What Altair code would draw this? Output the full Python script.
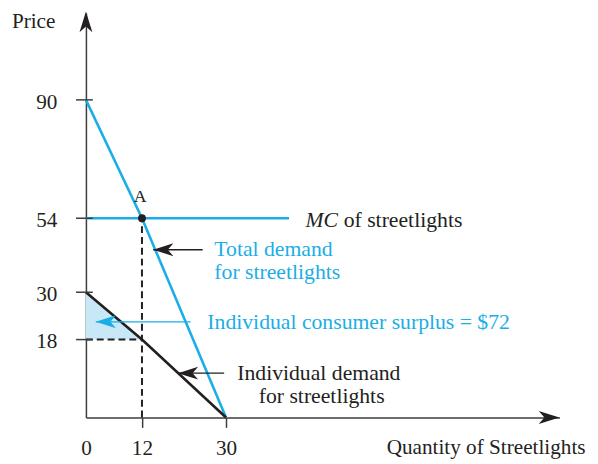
import altair as alt
import pandas as pd

# ---------------- data ----------------
x_tick_values = [0, 12, 30]
y_tick_values = [18, 30, 54, 90]

total_q = [0, 12, 30]
total_p = [90, 54, 0]
indiv_q = [0, 12, 30]
indiv_p = [30, 18, 0]
mc_q = [0, 43.5]
mc_p = [54, 54]
a_q = [12]
a_p = [54]
surplus_q = [0, 12]
surplus_hi = [30, 18]
surplus_lo = [18, 18]

# annotations (positions in data units)
blue_text = ["Total demand", "for streetlights", "Individual consumer surplus = $72"]
blue_text_q = [27.5, 27.5, 26.0]
blue_text_p = [41.8, 34.2, 20.75]
black_text = ["of streetlights", "Individual demand", "for streetlights"]
black_text_q = [55.2, 32.4, 37.0]
black_text_p = [51.1, 8.7, 3.4]
italic_text = ["MC"]
italic_text_q = [47.0]
italic_text_p = [51.1]
a_label = ["A"]
a_label_q = [11.6]
a_label_p = [58.8]

arrow_tip_q = [14.4, 2.1, 19.7]
arrow_tail_q = [25.0, 22.4, 29.6]
arrow_p = [43.8, 22.5, 10.25]
arrow_kind = ["black", "blue", "black"]

x_axis_end = [101.4]
y_axis_end = [116]

# ---------------- style ----------------
BLUE = "#1aaee6"
BLACK = "#231f20"
AXIS = "#3c3c3c"
SHADE = "#c8e8f7"
FONT = "Liberation Serif"
FS = 21.5
FS_NOTE = 22

XS = alt.Scale(domain=[0, 101.4], nice=False, zero=False)
YS = alt.Scale(domain=[0, 18, 30, 54, 90, 116], range=[410, 331, 283, 208, 88, 0],
               nice=False, zero=False)

LEFT_HEAD = "M 0 0 L 2 -0.64 L 1.45 0 L 2 0.64 Z"
RIGHT_HEAD = "M 0 0 L -2 -0.62 L -1.45 0 L -2 0.62 Z"
UP_HEAD = "M 0 0 L -0.62 2 L 0 1.45 L 0.62 2 Z"

X_AXIS = alt.Axis(
    values=x_tick_values, title="Quantity of Streetlights", grid=False,
    domain=True, domainColor=AXIS, domainWidth=1.5,
    ticks=True, tickSize=10, tickColor=AXIS, tickWidth=1.5,
    tickOpacity={"condition": {"test": "datum.value === 0", "value": 0}, "value": 1},
    labelFont=FONT, labelFontSize=FS, labelColor=BLACK, labelPadding=11,
    labelBaseline="top", labelFlush=False, labelOverlap=False,
    titleFont=FONT, titleFontSize=FS, titleFontWeight="normal", titleColor=BLACK,
    titleX=506, titleY=37, titleAlign="right", titleBaseline="alphabetic",
)
Y_AXIS = alt.Axis(
    values=y_tick_values, title="Price", grid=False,
    domain=True, domainColor=AXIS, domainWidth=1.5,
    ticks=False, tickSize=0,
    labelFont=FONT, labelFontSize=FS, labelColor=BLACK, labelPadding=29.5,
    labelBaseline="alphabetic", labelOffset=8.5, labelAlign="right",
    labelFlush=False, labelOverlap=False,
    titleFont=FONT, titleFontSize=FS, titleFontWeight="normal", titleColor=BLACK,
    titleAngle=0, titleX=-53.5, titleY=15, titleAlign="center", titleBaseline="alphabetic",
)


def X(field):
    return alt.X(field, type="quantitative", scale=XS, axis=X_AXIS)


def Y(field):
    return alt.Y(field, type="quantitative", scale=YS, axis=Y_AXIS)


# ---------------- layers ----------------
shade = alt.Chart(pd.DataFrame({"q": surplus_q, "hi": surplus_hi, "lo": surplus_lo})).mark_area(
    color=SHADE, opacity=1
).encode(x=X("q"), y=Y("hi"), y2="lo")

vdash = alt.Chart(pd.DataFrame({"q": a_q, "p": a_p, "z": [0]})).mark_rule(
    color=BLACK, strokeWidth=2, strokeDash=[7, 4]
).encode(x=X("q"), y=Y("z"), y2="p")
hdash = alt.Chart(pd.DataFrame({"q": a_q, "p": indiv_p[1:2], "z": [0]})).mark_rule(
    color=BLACK, strokeWidth=2, strokeDash=[7, 4]
).encode(x=X("z"), x2="q", y=Y("p"))

mc_line = alt.Chart(pd.DataFrame({"q": mc_q, "p": mc_p})).mark_line(
    color=BLUE, strokeWidth=2.6
).encode(x=X("q"), y=Y("p"))
total_line = alt.Chart(pd.DataFrame({"q": total_q, "p": total_p})).mark_line(
    color=BLUE, strokeWidth=2.6
).encode(x=X("q"), y=Y("p"))
indiv_line = alt.Chart(pd.DataFrame({"q": indiv_q, "p": indiv_p})).mark_line(
    color=BLACK, strokeWidth=2.6
).encode(x=X("q"), y=Y("p"))

point_a = alt.Chart(pd.DataFrame({"q": a_q, "p": a_p})).mark_circle(
    color=BLACK, size=64, opacity=1
).encode(x=X("q"), y=Y("p"))

arrow_df = pd.DataFrame({"tip": arrow_tip_q, "tail": arrow_tail_q, "p": arrow_p, "k": arrow_kind})
color_scale = alt.Scale(domain=["black", "blue"], range=[BLACK, BLUE])
shafts = alt.Chart(arrow_df).mark_rule(strokeWidth=1.4).encode(
    x=X("tip"), x2="tail", y=Y("p"), color=alt.Color("k:N", scale=color_scale, legend=None)
)
heads = alt.Chart(arrow_df).mark_point(
    shape=LEFT_HEAD, filled=True, size=420, opacity=1, strokeWidth=0
).encode(x=X("tip"), y=Y("p"), color=alt.Color("k:N", scale=color_scale, legend=None))

blue_txt = alt.Chart(pd.DataFrame({"q": blue_text_q, "p": blue_text_p, "t": blue_text})).mark_text(
    font=FONT, fontSize=FS_NOTE, color=BLUE, align="left", baseline="alphabetic"
).encode(x=X("q"), y=Y("p"), text="t:N")
black_txt = alt.Chart(pd.DataFrame({"q": black_text_q, "p": black_text_p, "t": black_text})).mark_text(
    font=FONT, fontSize=FS_NOTE, color=BLACK, align="left", baseline="alphabetic"
).encode(x=X("q"), y=Y("p"), text="t:N")
italic_txt = alt.Chart(pd.DataFrame({"q": italic_text_q, "p": italic_text_p, "t": italic_text})).mark_text(
    font=FONT, fontSize=FS_NOTE, fontStyle="italic", color=BLACK, align="left", baseline="alphabetic"
).encode(x=X("q"), y=Y("p"), text="t:N")
a_txt = alt.Chart(pd.DataFrame({"q": a_label_q, "p": a_label_p, "t": a_label})).mark_text(
    font=FONT, fontSize=18, color=BLACK, align="center", baseline="alphabetic"
).encode(x=X("q"), y=Y("p"), text="t:N")

y_ticks = alt.Chart(pd.DataFrame({"p": y_tick_values, "z": [0] * len(y_tick_values)})).mark_tick(
    orient="horizontal", size=17, thickness=1.5, color=AXIS, opacity=1, xOffset=-1.5
).encode(x=X("z"), y=Y("p"))

x_head = alt.Chart(pd.DataFrame({"q": x_axis_end, "p": [0]})).mark_point(
    shape=RIGHT_HEAD, filled=True, size=441, opacity=1, strokeWidth=0, color=BLACK
).encode(x=X("q"), y=Y("p"))
y_head = alt.Chart(pd.DataFrame({"q": [0], "p": y_axis_end})).mark_point(
    shape=UP_HEAD, filled=True, size=441, opacity=1, strokeWidth=0, color=BLACK, yOffset=-1.5
).encode(x=X("q"), y=Y("p"))

chart = alt.layer(
    shade, vdash, hdash, mc_line, total_line, indiv_line, point_a,
    shafts, heads, blue_txt, black_txt, italic_txt, a_txt, y_ticks, x_head, y_head,
).properties(
    width=480, height=410,
    autosize=alt.AutoSizeParams(type="none"),
    padding={"left": 79, "top": 2, "right": 31, "bottom": 44},
    background="white",
).configure_view(stroke=None)

chart.save("out.html", embed_options={"renderer": "svg", "actions": False})
